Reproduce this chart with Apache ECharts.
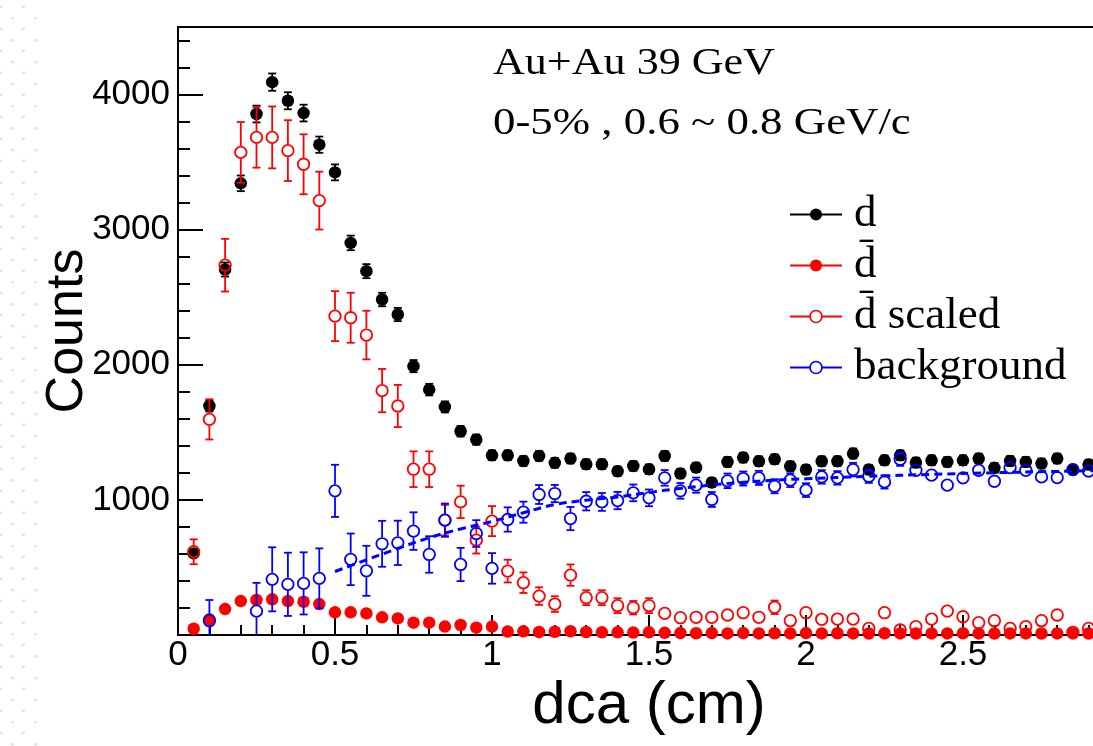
<!DOCTYPE html>
<html>
<head>
<meta charset="utf-8">
<title>dca distribution</title>
<script src="https://cdn.jsdelivr.net/npm/echarts@6/dist/echarts.min.js"></script>
<style>
  html, body { margin: 0; padding: 0; background: #fff; overflow: hidden; width: 1093px; height: 746px; }
  #dots {
    position: absolute; left: 0; top: 0; width: 40px; height: 746px;
    background-image:
      radial-gradient(circle, #dcdcdc 0 1.1px, rgba(255,255,255,0) 1.4px),
      radial-gradient(circle, #dcdcdc 0 1.1px, rgba(255,255,255,0) 1.4px);
    background-size: 23px 22px, 23px 22px;
    background-position: -11px -4.3px, 1px 7.3px;
  }
  #chart { position: absolute; left: 0; top: 0; width: 1150px; height: 746px; }
</style>
</head>
<body>
<div id="dots"></div>
<div id="chart"></div>
<script>
// dca bin centres (cm)
const dca = [
  0.05, 0.10, 0.15, 0.20, 0.25, 0.30, 0.35, 0.40, 0.45, 0.50,
  0.55, 0.60, 0.65, 0.70, 0.75, 0.80, 0.85, 0.90, 0.95, 1.00,
  1.05, 1.10, 1.15, 1.20, 1.25, 1.30, 1.35, 1.40, 1.45, 1.50,
  1.55, 1.60, 1.65, 1.70, 1.75, 1.80, 1.85, 1.90, 1.95, 2.00,
  2.05, 2.10, 2.15, 2.20, 2.25, 2.30, 2.35, 2.40, 2.45, 2.50,
  2.55, 2.60, 2.65, 2.70, 2.75, 2.80, 2.85, 2.90
];

// deuteron counts
const dCounts = [
  604, 1695, 2705, 3343, 3856, 4092, 3954, 3863, 3629, 3424,
  2902, 2693, 2483, 2372, 1990, 1816, 1688, 1508, 1446, 1330,
  1330, 1288, 1325, 1274, 1306, 1264, 1264, 1212, 1251, 1227,
  1325, 1195, 1240, 1129, 1281, 1313, 1286, 1301, 1249, 1224,
  1286, 1286, 1343, 1224, 1293, 1330, 1276, 1293, 1281, 1293,
  1306, 1237, 1288, 1281, 1269, 1306, 1224, 1261
];
const dErr = [
  25, 41, 52, 58, 62, 64, 63, 62, 60, 59,
  54, 52, 50, 49, 45, 43, 41, 39, 38, 36,
  36, 36, 36, 36, 36, 36, 36, 35, 35, 35,
  36, 35, 35, 34, 36, 36, 36, 36, 35, 35,
  36, 36, 37, 35, 36, 36, 36, 36, 36, 36,
  36, 35, 36, 36, 36, 36, 35, 36
];

// anti-deuteron counts
const dbarCounts = [
  46, 116, 192, 251, 259, 264, 251, 246, 229, 168,
  168, 160, 131, 123, 91, 91, 62, 74, 54, 62,
  25, 27, 22, 24, 28, 22, 20, 20, 18, 20,
  16, 14, 13, 14, 12, 14, 12, 13, 12, 14,
  12, 13, 12, 11, 13, 12, 11, 12, 12, 13,
  12, 11, 12, 12, 11, 12, 12, 11
];

// anti-deuteron counts scaled to the deuteron yield
const dbarScaled = [
  616, 1596, 2737, 3572, 3683, 3683, 3585, 3484, 3215, 2360,
  2348, 2220, 1809, 1695, 1227, 1227, 850, 985, 702, 843,
  473, 387, 288, 229, 443, 276, 276, 217, 202, 217,
  160, 128, 131, 131, 148, 165, 131, 205, 106, 165,
  116, 118, 118, 49, 165, 37, 62, 118, 177, 135,
  91, 106, 49, 62, 106, 148, 20, 49
];
const dbarScaledErr = [
  92, 149, 195, 225, 224, 229, 225, 222, 214, 185,
  185, 180, 160, 156, 132, 132, 113, 120, 99, 111,
  84, 76, 65, 58, 79, 55, 55, 55, 50, 55,
  45, 40, 40, 40, 42, 45, 40, 50, 36, 45,
  38, 38, 38, 25, 45, 22, 28, 38, 47, 40,
  33, 36, 25, 28, 36, 42, 16, 25
];

// background estimate (d minus scaled anti-d)
const bgCounts = [
  null, 106, null, null, 177, 412, 375, 382, 419, 1067,
  560, 475, 675, 682, 769, 596, 850, 522, 751, 493,
  855, 909, 1040, 1047, 862, 990, 985, 995, 1052, 1015,
  1163, 1067, 1109, 1003, 1141, 1158, 1163, 1101, 1146, 1072,
  1170, 1163, 1224, 1175, 1133, 1301, 1219, 1183, 1109, 1163,
  1219, 1138, 1239, 1219, 1170, 1165, 1224, 1214
];
const bgErr = [
  null, 153, null, null, 209, 237, 234, 230, 222, 193,
  191, 185, 170, 164, 139, 135, 123, 123, 99, 113,
  90, 78, 70, 64, 86, 68, 66, 64, 62, 62,
  58, 58, 56, 55, 54, 52, 52, 52, 51, 51,
  50, 50, 50, 49, 49, 49, 48, 48, 48, 47,
  47, 47, 47, 46, 46, 46, 46, 46
];

// background fit curve
const fitX = [0.5, 0.6, 0.7, 0.8, 0.9, 1.0, 1.1, 1.2, 1.3, 1.4, 1.5, 1.6, 1.7, 1.8, 1.9, 2.0, 2.2, 2.4, 2.6, 2.8, 3.0];
const fitY = [470, 556, 640, 720, 785, 840, 905, 965, 998, 1022, 1055, 1085, 1110, 1130, 1146, 1156, 1174, 1189, 1201, 1211, 1220];

// legend entries and annotation lines
const legendNames = ['d', 'd\u0304', 'd\u0304 scaled', 'background'];
const infoLines = ['Au+Au 39 GeV', '0-5% , 0.6 ~ 0.8 GeV/c'];

const SANS = "'Liberation Sans', Arial, Helvetica, sans-serif";
const SERIF = "'Liberation Serif', 'Times New Roman', Times, serif";
const RED = '#ff0000', BLUE = '#0000ff', BLACK = '#000000';

function points(vals) {
  return dca.map((x, i) => [x, vals[i]]).filter(p => p[1] != null);
}

// vertical error bars with end caps; the bar stops at the rim of hollow markers
function errorBars(id, vals, errs, color, gap, z) {
  const data = [];
  dca.forEach((x, i) => {
    if (vals[i] != null && errs[i] != null) data.push([x, vals[i], errs[i]]);
  });
  return {
    id: id,
    type: 'custom',
    z: z,
    silent: true,
    data: data,
    encode: { x: 0, y: 1 },
    renderItem: function (params, api) {
      const x = api.value(0), y = api.value(1), e = api.value(2);
      const c = api.coord([x, y]);
      const top = api.coord([x, y + e])[1];
      const bot = api.coord([x, y - e])[1];
      const cs = params.coordSys;
      const yMin = cs.y, yMax = cs.y + cs.height;
      const st = { stroke: color, lineWidth: 1.8 };
      const cap = 4;
      const kids = [];
      if (c[1] - top > gap) {
        kids.push({ type: 'line', shape: { x1: c[0], y1: Math.max(top, yMin), x2: c[0], y2: c[1] - gap }, style: st });
        if (top >= yMin) kids.push({ type: 'line', shape: { x1: c[0] - cap, y1: top, x2: c[0] + cap, y2: top }, style: st });
      }
      if (bot - c[1] > gap && c[1] + gap < yMax) {
        kids.push({ type: 'line', shape: { x1: c[0], y1: c[1] + gap, x2: c[0], y2: Math.min(bot, yMax) }, style: st });
        if (bot <= yMax) kids.push({ type: 'line', shape: { x1: c[0] - cap, y1: bot, x2: c[0] + cap, y2: bot }, style: st });
      }
      return { type: 'group', children: kids };
    }
  };
}

const chart = echarts.init(document.getElementById('chart'), null, { renderer: 'canvas' });

const axisText = { color: BLACK, fontFamily: SANS };

chart.setOption({
  animation: false,
  backgroundColor: 'transparent',
  grid: {
    left: 178, right: 30, top: 27, bottom: 111,
    show: true, borderColor: BLACK, borderWidth: 2, backgroundColor: 'transparent'
  },
  xAxis: {
    type: 'value', min: 0, max: 3, interval: 0.5,
    name: 'dca (cm)', nameLocation: 'middle', nameGap: 41, nameMoveOverlap: false,
    nameTextStyle: Object.assign({ fontSize: 60 }, axisText),
    axisLine: { show: true, onZero: false, lineStyle: { color: BLACK, width: 2 } },
    axisTick: { show: true, inside: true, length: 20, lineStyle: { color: BLACK, width: 2 } },
    minorTick: { show: true, splitNumber: 5, length: 10, lineStyle: { color: BLACK, width: 2 } },
    axisLabel: Object.assign({ fontSize: 35, margin: 3 }, axisText),
    splitLine: { show: false }
  },
  yAxis: [
    {
      type: 'value', min: 0, max: 4500, interval: 1000, position: 'left',
      name: 'Counts', nameLocation: 'middle', nameGap: 84, nameMoveOverlap: false,
      nameTextStyle: Object.assign({ fontSize: 52 }, axisText),
      axisLine: { show: true, onZero: false, lineStyle: { color: BLACK, width: 2 } },
      axisTick: { show: true, inside: true, length: 25, lineStyle: { color: BLACK, width: 2 } },
      axisLabel: Object.assign({
        fontSize: 35, margin: 8, showMaxLabel: false,
        formatter: v => (v === 0 || v > 4000) ? '' : String(v)
      }, axisText),
      splitLine: { show: false }
    },
    {
      type: 'value', min: 0, max: 4500, interval: 200, position: 'left', offset: 0,
      axisLine: { show: false },
      axisTick: { show: true, inside: true, length: 12, lineStyle: { color: BLACK, width: 2 } },
      axisLabel: { show: false },
      splitLine: { show: false }
    }
  ],
  legend: {
    left: 789, top: 192, orient: 'vertical', padding: 0,
    itemWidth: 52, itemHeight: 15, itemGap: 6,
    selectedMode: false,
    lineStyle: { width: 2 },
    textStyle: { fontFamily: SERIF, fontSize: 45, color: BLACK, lineHeight: 43, padding: [0, 0, 0, 7] },
    data: [
      { name: legendNames[0], itemStyle: { color: BLACK }, lineStyle: { color: BLACK, width: 2 } },
      { name: legendNames[1], itemStyle: { color: RED }, lineStyle: { color: RED, width: 2 } },
      { name: legendNames[2], itemStyle: { color: '#fff', borderColor: RED, borderWidth: 1.7 }, lineStyle: { color: RED, width: 2 } },
      { name: legendNames[3], itemStyle: { color: '#fff', borderColor: BLUE, borderWidth: 1.7 }, lineStyle: { color: BLUE, width: 2 } }
    ]
  },
  graphic: [
    {
      type: 'text', x: 493, y: 64.5, scaleX: 1.16, silent: true,
      style: { text: infoLines[0], x: 0, y: 0, fill: BLACK, font: '38px ' + SERIF, align: 'left', verticalAlign: 'middle' }
    },
    {
      type: 'text', x: 493, y: 124.5, scaleX: 1.18, silent: true,
      style: { text: infoLines[1], x: 0, y: 0, fill: BLACK, font: '38px ' + SERIF, align: 'left', verticalAlign: 'middle' }
    }
  ],
  series: [
    errorBars('dErr', dCounts, dErr, BLACK, 0, 2),
    {
      name: legendNames[0], type: 'line', z: 3,
      data: points(dCounts),
      symbol: 'circle', symbolSize: 12.5, showSymbol: true,
      itemStyle: { color: BLACK },
      lineStyle: { width: 0, color: BLACK }
    },
    {
      name: legendNames[1], type: 'line', z: 4,
      data: points(dbarCounts),
      symbol: 'circle', symbolSize: 12.5, showSymbol: true,
      itemStyle: { color: RED },
      lineStyle: { width: 0, color: RED }
    },
    errorBars('dbarScaledErr', dbarScaled, dbarScaledErr, RED, 6.5, 5),
    {
      name: legendNames[2], type: 'line', z: 6,
      data: points(dbarScaled),
      symbol: 'circle', symbolSize: 11.5, showSymbol: true,
      itemStyle: { color: 'rgba(255,255,255,0)', borderColor: RED, borderWidth: 1.8 },
      lineStyle: { width: 0, color: RED }
    },
    {
      id: 'bgFit', type: 'line', z: 7, silent: true,
      data: fitX.map((x, i) => [x, fitY[i]]),
      symbol: 'none', smooth: 0.4,
      lineStyle: { color: BLUE, width: 3, type: [8, 5] }
    },
    errorBars('bgErr', bgCounts, bgErr, BLUE, 6.5, 8),
    {
      name: legendNames[3], type: 'line', z: 9,
      data: points(bgCounts),
      symbol: 'circle', symbolSize: 11.5, showSymbol: true,
      itemStyle: { color: 'rgba(255,255,255,0)', borderColor: BLUE, borderWidth: 1.8 },
      lineStyle: { width: 0, color: BLUE }
    }
  ]
});
</script>
</body>
</html>
